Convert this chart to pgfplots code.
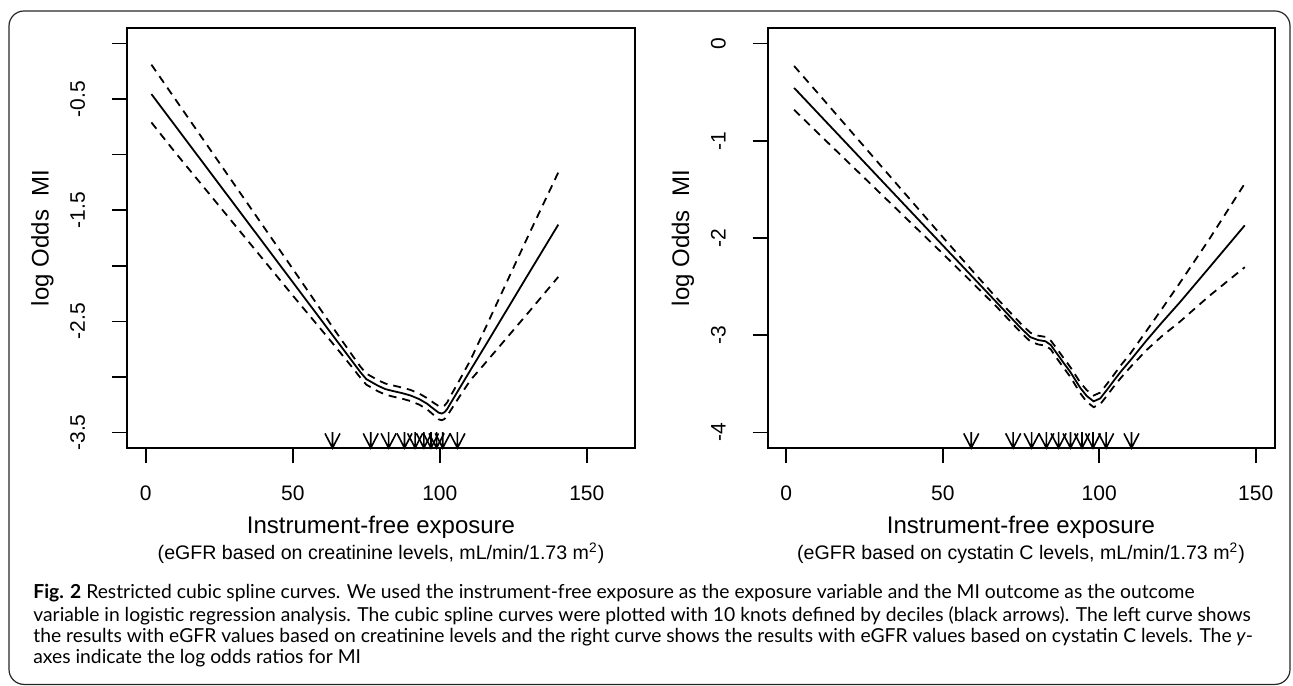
\documentclass[border=0pt]{standalone}
\usepackage{fontspec}
\setmainfont{Liberation Sans}
\newfontfamily\capfont{Lato}
\usepackage{pgfplots}
\usepackage{pgfplotstable}
\pgfplotsset{compat=1.18}

% knot arrow, tip at the mark position
\pgfdeclareplotmark{knot}{%
  \pgfpathmoveto{\pgfpoint{0pt}{0pt}}%
  \pgfpathlineto{\pgfpoint{0pt}{8pt}}%
  \pgfpathmoveto{\pgfpoint{-3.75pt}{7.3pt}}%
  \pgfpathlineto{\pgfpoint{0pt}{0pt}}%
  \pgfpathlineto{\pgfpoint{3.75pt}{7.3pt}}%
  \pgfusepathqstroke}

% x  fit  upper  lower
\pgfplotstableread{
x f up lo
1.9 -0.455 -0.190 -0.710
10 -0.740 -0.500 -0.980
20 -1.092 -0.882 -1.302
30 -1.444 -1.264 -1.624
40 -1.796 -1.646 -1.946
50 -2.148 -2.028 -2.268
60 -2.500 -2.415 -2.585
65 -2.676 -2.608 -2.744
70 -2.852 -2.797 -2.907
73 -2.958 -2.908 -3.008
75 -3.020 -2.970 -3.070
77 -3.050 -3.000 -3.100
79 -3.080 -3.030 -3.130
81.5 -3.110 -3.060 -3.160
84.2 -3.128 -3.078 -3.178
87 -3.145 -3.095 -3.195
90 -3.167 -3.117 -3.217
93 -3.200 -3.150 -3.250
95.6 -3.240 -3.190 -3.290
98 -3.290 -3.235 -3.345
99.6 -3.322 -3.262 -3.382
100.7 -3.330 -3.270 -3.390
101.6 -3.318 -3.258 -3.378
102.5 -3.290 -3.230 -3.350
103.6 -3.240 -3.175 -3.305
107 -3.090 -3.015 -3.165
110.4 -2.940 -2.850 -3.030
115 -2.740 -2.590 -2.890
120 -2.520 -2.305 -2.735
130 -2.080 -1.735 -2.425
140.3 -1.630 -1.160 -2.100
}\creat

\pgfplotstableread{
x f up lo
2.5 -0.456 -0.231 -0.681
10 -0.712 -0.507 -0.917
20 -1.053 -0.878 -1.228
30 -1.394 -1.249 -1.539
40 -1.735 -1.620 -1.850
50 -2.076 -1.991 -2.161
60 -2.417 -2.357 -2.477
67.4 -2.669 -2.624 -2.714
72 -2.826 -2.781 -2.871
75 -2.928 -2.883 -2.973
78 -3.020 -2.975 -3.065
80.5 -3.050 -3.005 -3.095
82.8 -3.062 -3.017 -3.107
84.5 -3.100 -3.055 -3.145
86.5 -3.190 -3.140 -3.240
88.5 -3.280 -3.230 -3.330
90.8 -3.380 -3.330 -3.430
93.9 -3.540 -3.485 -3.595
96 -3.625 -3.565 -3.685
98.2 -3.680 -3.620 -3.740
100.3 -3.650 -3.590 -3.710
102.5 -3.560 -3.500 -3.620
104.6 -3.470 -3.410 -3.530
107 -3.370 -3.305 -3.435
109.9 -3.260 -3.190 -3.330
115.2 -3.050 -2.950 -3.150
120 -2.870 -2.730 -3.010
125.8 -2.660 -2.460 -2.860
135 -2.310 -2.020 -2.600
146.5 -1.870 -1.440 -2.300
}\cysta

\pgfplotsset{
  rcs/.style={
    scale only axis, width=254pt, height=210pt,
    anchor=south west,
    axis line style={line width=1pt},
    tick align=outside, major tick length=7.5pt,
    xtick pos=left, ytick pos=left,
    tick style={line width=0.8pt, black},
    xtick={0,50,100,150}, xticklabels={0,50,100,150},
    xticklabel style={anchor=base, font=\fontsize{10.5}{12}\selectfont},
    yticklabel style={rotate=90, anchor=base, font=\fontsize{10.5}{12}\selectfont},
    xticklabel shift=18.5pt, yticklabel shift=13.5pt,
    xlabel={Instrument-free exposure},
    ylabel={log Odds~ MI},
    label style={font=\fontsize{12}{14}\selectfont},
    xlabel style={at={(axis description cs:0.5,-0.2036)}, anchor=base},
    ylabel style={at={(axis description cs:-0.1545,0.5)}, anchor=base},
    clip mode=individual,
  },
  fit/.style={black, line width=0.9pt},
  band/.style={black, line width=0.9pt, dash pattern=on 4pt off 3pt},
  knots/.style={only marks, mark=knot, black, mark options={line width=0.8pt, solid}},
}

\begin{document}
\begin{tikzpicture}
\useasboundingbox (0,0) rectangle (646.5pt,342.5pt);
\draw[black!85, line width=0.6pt, rounded corners=7.5pt] (4.5pt,0.3pt) rectangle (645pt,337pt);

\begin{axis}[rcs, at={(63.5pt,118.5pt)},
  xmin=-6.4, xmax=166.4, ymin=-3.64, ymax=0.14,
  ytick={0,-0.5,-1,-1.5,-2,-2.5,-3,-3.5},
  yticklabels={,-0.5,,-1.5,,-2.5,,-3.5}]
\addplot[fit] table[x=x, y=f] {\creat};
\addplot[band] table[x=x, y=up] {\creat};
\addplot[band] table[x=x, y=lo] {\creat};
\addplot[knots] coordinates {(63.5,-3.64) (76.5,-3.64) (82.6,-3.64) (88,-3.64) (91.6,-3.64)
  (94.6,-3.64) (97,-3.64) (98.9,-3.64) (101,-3.64) (106,-3.64)};
\node[anchor=base, font=\fontsize{9.8}{12}\selectfont] at (axis description cs:0.5,-0.2655)
  {(eGFR based on creatinine levels, mL/min/1.73 m\textsuperscript{2})};
\end{axis}

\begin{axis}[rcs, at={(383.75pt,118.5pt)}, width=253.5pt,
  xmin=-6, xmax=156, ymin=-4.16, ymax=0.16,
  ytick={0,-1,-2,-3,-4}, yticklabels={0,-1,-2,-3,-4}]
\addplot[fit] table[x=x, y=f] {\cysta};
\addplot[band] table[x=x, y=up] {\cysta};
\addplot[band] table[x=x, y=lo] {\cysta};
\addplot[knots] coordinates {(59.1,-4.16) (72.5,-4.16) (78.4,-4.16) (83.1,-4.16) (87,-4.16)
  (90.8,-4.16) (94.5,-4.16) (98,-4.16) (102.2,-4.16) (110.3,-4.16)};
\node[anchor=base, font=\fontsize{9.8}{12}\selectfont] at (axis description cs:0.5,-0.2655)
  {(eGFR based on cystatin C levels, mL/min/1.73 m\textsuperscript{2})};
\end{axis}

\begin{scope}[every node/.style={anchor=base west, inner sep=0pt, font=\capfont\fontsize{9.64}{11}\selectfont}]
\node at (16.5pt,43.5pt) {\textbf{Fig. 2} Restricted cubic spline curves. We used the instrument-free exposure as the exposure variable and the MI outcome as the outcome};
\node at (16.5pt,31.8pt) {variable in logistic regression analysis. The cubic spline curves were plotted with 10 knots defined by deciles (black arrows). The left curve shows};
\node at (16.5pt,21.3pt) {the results with eGFR values based on creatinine levels and the right curve shows the results with eGFR values based on cystatin C levels. The \textit{y}-};
\node at (16.5pt,10.8pt) {axes indicate the log odds ratios for MI};
\end{scope}
\end{tikzpicture}
\end{document}
